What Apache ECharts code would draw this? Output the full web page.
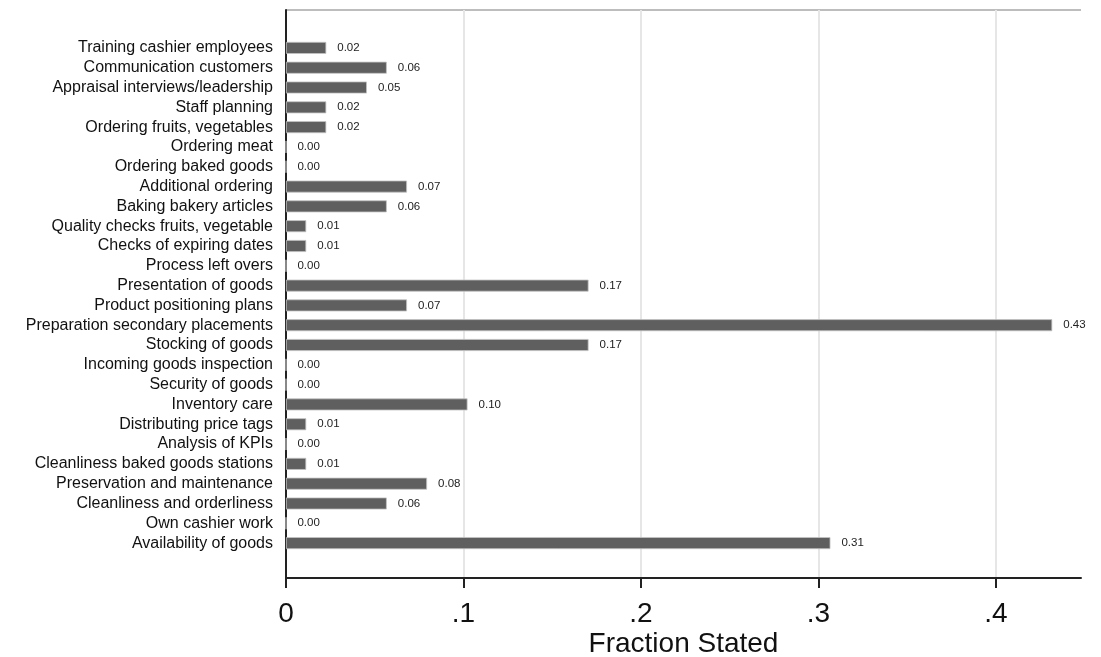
<!DOCTYPE html>
<html><head><meta charset="utf-8">
<script src="https://cdn.jsdelivr.net/npm/echarts@6/dist/echarts.min.js"></script>
<style>html,body{margin:0;padding:0;background:#fff}#c{width:1101px;height:657px}</style>
</head><body><div id="c"></div>
<script>
const categories = [
  "Training cashier employees","Communication customers","Appraisal interviews/leadership",
  "Staff planning","Ordering fruits, vegetables","Ordering meat","Ordering baked goods",
  "Additional ordering","Baking bakery articles","Quality checks fruits, vegetable",
  "Checks of expiring dates","Process left overs","Presentation of goods",
  "Product positioning plans","Preparation secondary placements","Stocking of goods",
  "Incoming goods inspection","Security of goods","Inventory care","Distributing price tags",
  "Analysis of KPIs","Cleanliness baked goods stations","Preservation and maintenance",
  "Cleanliness and orderliness","Own cashier work","Availability of goods"
];
const fractionStated = [
  0.0227, 0.0568, 0.0456, 0.0227, 0.0227, 0, 0, 0.0682, 0.0568, 0.0114,
  0.0114, 0, 0.1705, 0.0682, 0.4318, 0.1705, 0, 0, 0.1023, 0.0114,
  0, 0.0114, 0.0795, 0.0568, 0, 0.3068
];
const tickValues = [0, 0.1, 0.2, 0.3, 0.4];
const tickLabels = ["0", ".1", ".2", ".3", ".4"];
const xMax = 0.448;

const FONT = "Liberation Sans";
const chart = echarts.init(document.getElementById('c'), null, {renderer: 'canvas'});
chart.setOption({
  animation: false,
  textStyle: {fontFamily: FONT},
  grid: [
    {left: 286, top: 38, width: 795, height: 515, containLabel: false, outerBoundsMode: 'none'},
    {left: 286, top: 10, width: 795, height: 568, containLabel: false, outerBoundsMode: 'none'},
    {left: 286, top: 10, width: 710, height: 568, containLabel: false, outerBoundsMode: 'none'}
  ],
  xAxis: [
    {gridIndex: 0, type: 'value', min: 0, max: xMax, show: false},
    {gridIndex: 1, type: 'value', min: 0, max: xMax,
     axisLine: {show: true, lineStyle: {color: '#222', width: 2}},
     axisTick: {show: false}, axisLabel: {show: false}, splitLine: {show: false},
     name: 'Fraction Stated', nameLocation: 'middle', nameGap: 52,
     nameTextStyle: {fontSize: 28, color: '#111', fontFamily: FONT}},
    {gridIndex: 2, type: 'value', min: tickValues[0], max: tickValues[tickValues.length-1], interval: 0.1,
     axisLine: {show: false},
     axisTick: {show: true, inside: false, length: 10, lineStyle: {color: '#222', width: 2}},
     axisLabel: {show: true, fontSize: 28, color: '#111', margin: 22, fontFamily: FONT,
       formatter: function (v) { const i = tickValues.findIndex(t => Math.abs(t - v) < 1e-9); return i >= 0 ? tickLabels[i] : ''; }},
     splitLine: {show: true, showMinLine: false, lineStyle: {color: '#e6e6e6', width: 2}}}
  ],
  yAxis: [
    {gridIndex: 0, type: 'category', data: categories, inverse: true,
     axisLine: {show: false}, axisTick: {show: false},
     axisLabel: {interval: 0, fontSize: 16, color: '#111', margin: 13, fontFamily: FONT}},
    {gridIndex: 1, type: 'value', min: 0, max: 1, interval: 1,
     axisLine: {show: true, lineStyle: {color: '#222', width: 2}},
     axisTick: {show: false}, axisLabel: {show: false},
     splitLine: {show: true, showMinLine: false, lineStyle: {color: '#bdbdbd', width: 2}}},
    {gridIndex: 2, type: 'value', min: 0, max: 1, show: false}
  ],
  series: [{
    type: 'bar', xAxisIndex: 0, yAxisIndex: 0,
    data: fractionStated, barWidth: 12,
    itemStyle: {color: '#5f5f5f', borderColor: '#c4c4c4', borderWidth: 0.8},
    label: {show: true, position: 'right', distance: 11, fontSize: 11.5, color: '#222', fontFamily: FONT,
      formatter: p => p.value.toFixed(2)}
  }]
});
</script></body></html>
